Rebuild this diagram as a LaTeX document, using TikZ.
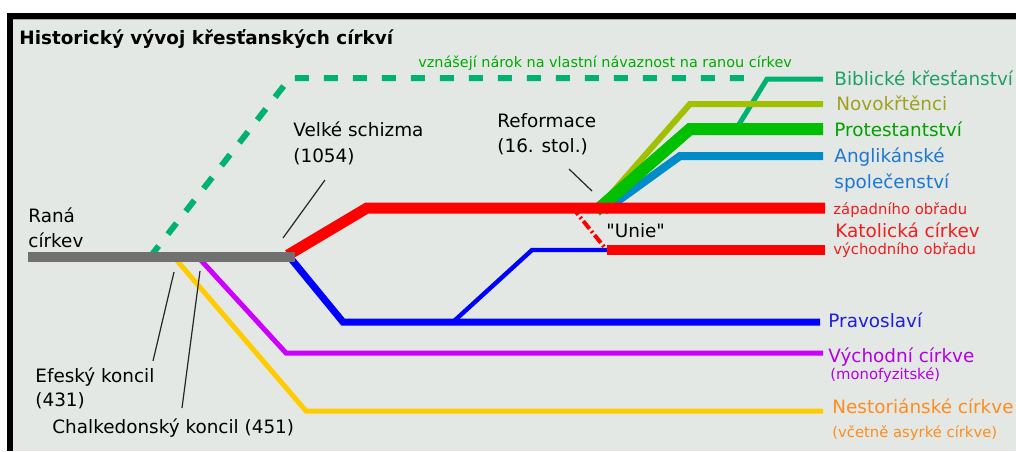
\documentclass[tikz,border=0pt]{standalone}
\usepackage{fontspec}
\setmainfont{DejaVu Sans}
\usetikzlibrary{positioning}

\definecolor{bgcol}{RGB}{227,232,229}
\definecolor{earlygray}{RGB}{112,112,112}
\definecolor{bibteal}{RGB}{0,178,112}
\definecolor{bibtext}{RGB}{30,160,100}
\definecolor{anaolive}{RGB}{160,192,0}
\definecolor{anatext}{RGB}{160,160,30}
\definecolor{protgreen}{RGB}{0,192,0}
\definecolor{prottext}{RGB}{0,160,0}
\definecolor{anglblue}{RGB}{0,140,200}
\definecolor{angltext}{RGB}{30,120,210}
\definecolor{catred}{RGB}{255,0,0}
\definecolor{cattext}{RGB}{240,30,30}
\definecolor{orthblue}{RGB}{0,0,255}
\definecolor{orthtext}{RGB}{30,30,220}
\definecolor{oriviolet}{RGB}{204,0,255}
\definecolor{oritext}{RGB}{180,0,230}
\definecolor{nestyellow}{RGB}{255,204,0}
\definecolor{nesttext}{RGB}{255,140,30}
\definecolor{claimgreen}{RGB}{0,170,0}

\begin{document}
\begin{tikzpicture}[x=0.5pt,y=-0.5pt,
  lbl/.style={anchor=base west,inner sep=0pt,font=\fontsize{9.2}{11}\selectfont},
  smalllbl/.style={anchor=base west,inner sep=0pt,font=\fontsize{7.4}{9}\selectfont},
  pointer/.style={black!85,line width=0.6pt}]

  % frame and background
  \clip (0,0) rectangle (1016,451);
  \fill[white] (0,0) rectangle (1016,451);
  \fill[bgcol] (13,19) rectangle (1016,451);
  \fill[black] (7,13) rectangle (1016,19);
  \fill[black] (7,13) rectangle (13,451);
  \draw[gray!70,line width=0.6pt] (13,19.6) -- (1016,19.6);

  % branch points
  \coordinate (ranaL) at (28,257);
  \coordinate (ranaR) at (295,257);
  \coordinate (split) at (288,255);
  \coordinate (westC) at (367,208);
  \coordinate (westR) at (825,208);
  \coordinate (orthC) at (343,322);
  \coordinate (orthR) at (820,322);
  \coordinate (unionS) at (453,322);
  \coordinate (unionC) at (532,250);
  \coordinate (unionR) at (609,250);
  \coordinate (eastL) at (607,250);
  \coordinate (eastR) at (825,250);
  \coordinate (unieA) at (572,207);
  \coordinate (unieB) at (605,248);
  \coordinate (orientS) at (198,257);
  \coordinate (orientC) at (286,353);
  \coordinate (orientR) at (823,353);
  \coordinate (nestS) at (174,257);
  \coordinate (nestC) at (306,411);
  \coordinate (nestR) at (823,411);
  \coordinate (claimS) at (150,257);
  \coordinate (claimC) at (290,78);
  \coordinate (claimR) at (757,78);
  \coordinate (reform) at (596,211);
  \coordinate (anaC) at (690,104);
  \coordinate (anaR) at (823,104);
  \coordinate (protC) at (690,129);
  \coordinate (protR) at (823,129);
  \coordinate (anglS) at (604,211);
  \coordinate (anglC) at (680,156);
  \coordinate (anglR) at (823,156);
  \coordinate (bibS) at (738,126);
  \coordinate (bibC) at (767,79);
  \coordinate (bibR) at (823,79);

  % claim of continuity
  \draw[bibteal,line width=3pt,dash pattern=on 7pt off 7.5pt] (claimS) -- (claimC) -- (claimR);

  % ancient eastern churches
  \draw[nestyellow,line width=2.5pt] (nestS) -- (nestC) -- (nestR);
  \draw[oriviolet,line width=2.5pt] (orientS) -- (orientC) -- (orientR);

  % orthodox and the union
  \draw[orthblue,line width=3.5pt] (split) -- (orthC) -- (orthR);
  \draw[orthblue,line width=2.2pt] (unionS) -- (unionC) -- (unionR);
  \draw[catred,line width=2pt,dash pattern=on 5pt off 1.5pt on 1pt off 1.5pt] (unieA) -- (unieB);
  \draw[catred,line width=5pt] (eastL) -- (eastR);

  % reformation
  \draw[bibteal,line width=2.5pt] (bibS) -- (bibC) -- (bibR);
  \draw[anaolive,line width=3pt] (reform) -- (anaC) -- (anaR);
  \draw[anglblue,line width=4pt] (anglS) -- (anglC) -- (anglR);
  \draw[protgreen,line width=6pt] (reform) -- (protC) -- (protR);

  % western church
  \draw[catred,line width=5.5pt] (split) -- (westC) -- (westR);

  % early church
  \draw[earlygray,line width=5pt] (ranaL) -- (ranaR);

  % title
  \node[anchor=base west,inner sep=0pt,font=\bfseries\fontsize{9.2}{11}\selectfont] (title) at (19,44) {Historický vývoj křesťanských církví};
  \node[smalllbl,text=claimgreen,font=\fontsize{7.2}{9}\selectfont] (claim) at (418,67) {vznášejí nárok na vlastní návaznost na ranou církev};

  % left labels
  \node[lbl] (rana1) at (28,222) {Raná};
  \node[lbl] (rana2) at (28,247) {církev};
  \node[lbl] (schizma1) at (293,136) {Velké schizma};
  \node[lbl] (schizma2) at (293,162) {(1054)};
  \node[lbl] (reform1) at (497,127) {Reformace};
  \node[lbl] (reform2) at (497,152) {(16. stol.)};
  \node[lbl] (unie) at (606,237) {\textquotedbl Unie\textquotedbl};
  \node[lbl] (efez1) at (35,382) {Efeský koncil};
  \node[lbl] (efez2) at (35,406) {(431)};
  \node[lbl] (chalk) at (52,433) {Chalkedonský koncil (451)};

  % pointers
  \coordinate (schizmaA) at (325,180);
  \coordinate (schizmaB) at (283,238);
  \coordinate (reformA) at (569,169);
  \coordinate (reformB) at (592,191);
  \coordinate (efezA) at (153,361);
  \coordinate (efezB) at (174,272);
  \coordinate (chalkA) at (182,408);
  \coordinate (chalkB) at (200,271);
  \draw[pointer] (schizmaA) -- (schizmaB);
  \draw[pointer] (reformA) -- (reformB);
  \draw[pointer] (efezA) -- (efezB);
  \draw[pointer] (chalkA) -- (chalkB);

  % right labels
  \node[lbl,text=bibtext] (bib) at (834,85) {Biblické křesťanství};
  \node[lbl,text=anatext] (ana) at (836,110) {Novokřtěnci};
  \node[lbl,text=prottext] (prot) at (834,136) {Protestantství};
  \node[lbl,text=angltext] (angl1) at (834,162) {Anglikánské};
  \node[lbl,text=angltext] (angl2) at (834,188) {společenství};
  \node[smalllbl,text=cattext] (west) at (833,214) {západního obřadu};
  \node[lbl,text=cattext] (cat) at (835,237) {Katolická církev};
  \node[smalllbl,text=cattext] (east) at (833,254) {východního obřadu};
  \node[lbl,text=orthtext] (orth) at (828,327) {Pravoslaví};
  \node[lbl,text=oritext] (orient1) at (828,362) {Východní církve};
  \node[smalllbl,text=oritext] (orient2) at (830,379) {(monofyzitské)};
  \node[lbl,text=nesttext] (nest1) at (832,413) {Nestoriánské církve};
  \node[smalllbl,text=nesttext] (nest2) at (832,437) {(včetně asyrké církve)};

\end{tikzpicture}
\end{document}
